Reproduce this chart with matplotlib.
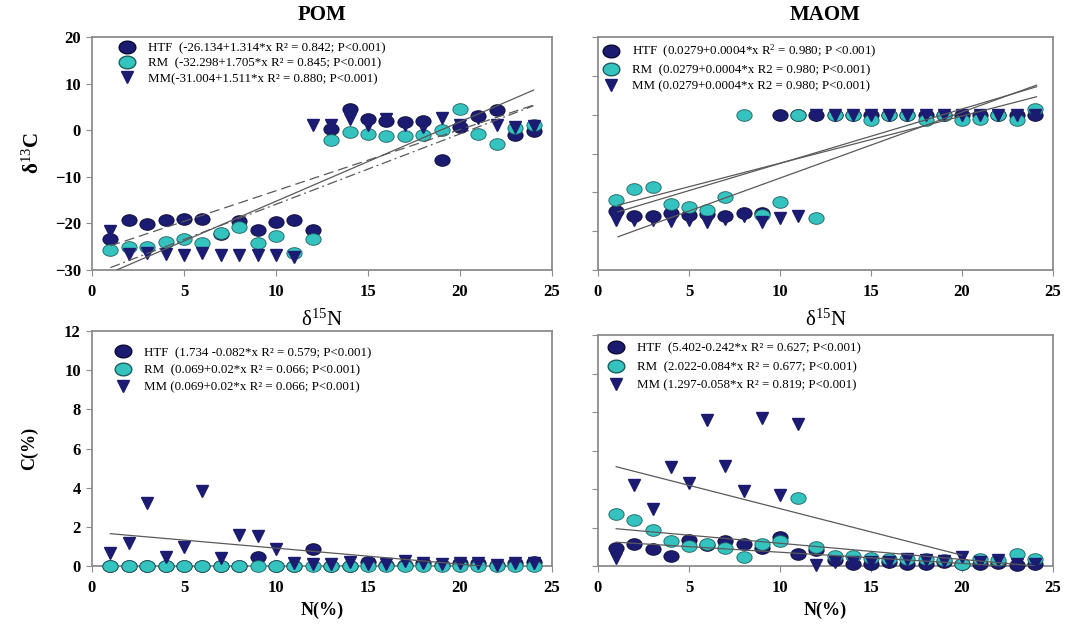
import matplotlib
matplotlib.use("Agg")
import matplotlib.pyplot as plt
import numpy as np
from matplotlib.lines import Line2D
from matplotlib.path import Path

plt.rcParams['font.family'] = ['Liberation Serif', 'DejaVu Serif']
plt.rcParams['mathtext.fontset'] = 'custom'
plt.rcParams['mathtext.rm'] = 'Liberation Serif'
plt.rcParams['mathtext.it'] = 'Liberation Serif:italic'
plt.rcParams['mathtext.bf'] = 'Liberation Serif:bold'

NAVY = '#1b1b72'
CYAN = '#35c3c0'
LINE = '#5a5a5a'
FRAME = '#8c8c8c'

# slightly flattened circle, the way the symbols come out in the figure
_t = np.linspace(0, 2 * np.pi, 60)
OVAL = Path(np.column_stack([0.5 * np.cos(_t), 0.38 * np.sin(_t)]))

x = [1, 2, 3, 4, 5, 6, 7, 8, 9, 10, 11, 12, 13, 14, 15, 16, 17, 18, 19, 20, 21, 22, 23, 24]

# POM: delta13C
pom_iso_htf = [-23.4, -19.3, -20.2, -19.3, -19.0, -19.0, -22.3, -19.5, -21.5, -19.6, -19.3, -21.5,
               0.2, 4.5, 2.5, 2.0, 1.8, 2.0, -6.3, 0.7, 3.0, 4.3, -1.1, -0.2]
pom_iso_rm = [-25.8, -25.0, -25.0, -24.0, -23.3, -24.1, -22.0, -20.7, -24.3, -22.7, -26.3, -23.4,
              -2.1, -0.4, -0.9, -1.3, -1.3, -1.1, 0.0, 4.6, -0.9, -2.9, 0.4, 1.2]
pom_iso_mm = [-21.7, -26.5, -26.3, -26.5, -26.8, -26.3, -26.8, -26.8, -26.8, -26.8, -27.2, 1.2,
              1.2, 2.5, 1.2, 2.5, 1.2, 0.7, 2.7, 1.1, 2.7, 1.1, 0.7, 0.9]
pom_iso_fit_htf = (-26.134, 1.314)
pom_iso_fit_rm = (-32.298, 1.705)
pom_iso_fit_mm = (-31.004, 1.511)

# MAOM: delta13C
maom_iso_htf = [-14.7, -16.1, -16.1, -15.4, -15.8, -15.6, -16.1, -15.4, -15.4, 10.0, 10.0, 10.0,
                10.0, 10.0, 10.0, 10.0, 10.0, 10.0, 10.0, 10.0, 10.0, 10.0, 10.0, 10.0]
maom_iso_rm = [-12.0, -9.2, -8.5, -13.0, -13.7, -14.5, -11.3, 9.9, -15.8, -12.6, 10.0, -16.5,
               10.0, 10.0, 8.6, 10.0, 10.0, 8.6, 10.0, 8.7, 8.9, 10.0, 8.6, 11.4]
maom_iso_mm = [-17.0, -17.0, -17.0, -17.3, -17.0, -17.6, -16.8, -16.1, -17.6, -16.6, -16.1, 10.0,
               10.0, 10.0, 10.0, 10.0, 10.0, 10.0, 10.0, 10.0, 10.0, 10.0, 10.0, 10.0]
maom_iso_fit_htf = (-16.55, 1.401)
maom_iso_fit_rm = (-14.62, 1.214)
maom_iso_fit_mm = (-23.31, 1.699)

# POM: C (%)
pom_c_htf = [0.0, 0.0, 0.0, 0.0, 0.0, 0.0, 0.0, 0.0, 0.44, 0.0, 0.0, 0.87,
             0.0, 0.0, 0.2, 0.05, 0.05, 0.15, 0.05, 0.15, 0.15, 0.05, 0.15, 0.2]
pom_c_rm = [0.0, 0.0, 0.0, 0.0, 0.0, 0.0, 0.0, 0.0, 0.0, 0.0, 0.0, 0.0,
            0.0, 0.0, 0.0, 0.0, 0.0, 0.0, 0.0, 0.0, 0.0, 0.0, 0.0, 0.0]
pom_c_mm = [0.65, 1.16, 3.23, 0.48, 0.99, 3.85, 0.39, 1.58, 1.53, 0.85, 0.17, 0.1,
            0.1, 0.2, 0.1, 0.1, 0.25, 0.15, 0.1, 0.15, 0.15, 0.05, 0.13, 0.15]
pom_c_fit_htf = (1.734, -0.082)

# MAOM: C (%)
maom_c_htf = [0.95, 1.14, 0.87, 0.54, 1.35, 1.09, 1.31, 1.14, 0.95, 1.49, 0.61, 0.83,
              0.31, 0.09, 0.09, 0.22, 0.13, 0.13, 0.22, 0.13, 0.09, 0.17, 0.05, 0.09]
maom_c_rm = [2.7, 2.39, 1.87, 1.3, 1.06, 1.14, 0.95, 0.48, 1.14, 1.3, 3.55, 1.0,
             0.52, 0.52, 0.43, 0.35, 0.35, 0.35, 0.31, 0.1, 0.35, 0.29, 0.61, 0.35]
maom_c_mm = [0.4, 4.2, 2.96, 5.16, 4.3, 7.6, 5.2, 3.9, 7.7, 3.7, 7.38, 0.05,
             0.22, 0.2, 0.22, 0.22, 0.35, 0.3, 0.25, 0.48, 0.22, 0.3, 0.1, 0.1]
maom_c_fit_htf = (5.402, -0.242)
maom_c_fit_rm = (2.022, -0.084)
maom_c_fit_mm = (1.297, -0.058)

pom_iso_labels = ['HTF  (-26.134+1.314*x R\u00b2 = 0.842; P<0.001)',
                  'RM  (-32.298+1.705*x R\u00b2 = 0.845; P<0.001)',
                  'MM(-31.004+1.511*x R\u00b2 = 0.880; P<0.001)']
maom_iso_labels = ['HTF  (0.0279+0.0004*x R$^2$ = 0.980; P <0.001)',
                   'RM  (0.0279+0.0004*x R2 = 0.980; P<0.001)',
                   'MM (0.0279+0.0004*x R2 = 0.980; P<0.001)']
pom_c_labels = ['HTF  (1.734 -0.082*x R\u00b2 = 0.579; P<0.001)',
                'RM  (0.069+0.02*x R\u00b2 = 0.066; P<0.001)',
                'MM (0.069+0.02*x R\u00b2 = 0.066; P<0.001)']
maom_c_labels = ['HTF  (5.402-0.242*x R\u00b2 = 0.627; P<0.001)',
                 'RM  (2.022-0.084*x R\u00b2 = 0.677; P<0.001)',
                 'MM (1.297-0.058*x R\u00b2 = 0.819; P<0.001)']

fig = plt.figure(figsize=(10.73, 6.26), dpi=100)
ax_pi = fig.add_axes([0.0857, 0.5687, 0.4287, 0.372])
ax_mi = fig.add_axes([0.5573, 0.5687, 0.4240, 0.372])
ax_pc = fig.add_axes([0.0857, 0.0958, 0.4287, 0.3754])
ax_mc = fig.add_axes([0.5573, 0.0958, 0.4240, 0.3690])


def scatter3(ax, htf, rm, mm):
    ax.plot(x, htf, ls='none', marker=OVAL, color=NAVY, mec='#0a0a30', mew=0.6, ms=11,
            clip_on=False, zorder=3)
    ax.plot(x, rm, ls='none', marker=OVAL, color=CYAN, mec='#1d5f5f', mew=0.6, ms=11,
            clip_on=False, zorder=4)
    ax.plot(x, mm, 'v', color=NAVY, mec=NAVY, ms=9, clip_on=False, zorder=5)


def fit_line(ax, fit, x0, x1, ls='-'):
    xx = np.array([x0, x1])
    ax.plot(xx, fit[0] + fit[1] * xx, ls=ls, color=LINE, lw=0.9, zorder=6)


def style(ax, ylim, yticks, ylabels=True):
    ax.set_xlim(0, 25)
    ax.set_ylim(*ylim)
    ax.set_xticks([0, 5, 10, 15, 20, 25])
    ax.set_yticks(yticks)
    for s in ax.spines.values():
        s.set_color(FRAME)
        s.set_linewidth(1.3)
    ax.tick_params(direction='out', length=4, color=FRAME, labelsize=12, pad=4)
    ax.tick_params(axis='x', pad=6)
    for t in ax.get_xticklabels() + ax.get_yticklabels():
        t.set_fontweight('bold')
    if not ylabels:
        ax.set_yticklabels([])


def legend3(ax, labels, anchor, spacing):
    handles = [Line2D([], [], marker=OVAL, ls='none', color=NAVY, mec='#0a0a30', ms=12),
               Line2D([], [], marker=OVAL, ls='none', color=CYAN, mec='#1d5f5f', ms=12),
               Line2D([], [], marker='v', ls='none', color=NAVY, ms=9)]
    ax.legend(handles, labels, loc='upper left', bbox_to_anchor=anchor, frameon=False,
              fontsize=9.3, handlelength=1.2, handletextpad=1.0, labelspacing=spacing,
              borderaxespad=0)


# POM delta13C
scatter3(ax_pi, pom_iso_htf, pom_iso_rm, pom_iso_mm)
fit_line(ax_pi, pom_iso_fit_htf, 1, 24, ls=(0, (8, 4)))
fit_line(ax_pi, pom_iso_fit_rm, 1, 24)
fit_line(ax_pi, pom_iso_fit_mm, 1, 24, ls=(0, (8, 3, 1.5, 3)))
style(ax_pi, (-30, 20), [-30, -20, -10, 0, 10, 20])
legend3(ax_pi, pom_iso_labels, (0.048, 1.0), 0.25)
ax_pi.set_title('POM', fontsize=15, fontweight='bold', pad=12)
ax_pi.set_ylabel('\u03b4$^{13}$C', fontsize=15, fontweight='bold', labelpad=8)
ax_pi.set_xlabel('\u03b4$^{15}$N', fontsize=15, labelpad=7)

# MAOM delta13C
scatter3(ax_mi, maom_iso_htf, maom_iso_rm, maom_iso_mm)
fit_line(ax_mi, maom_iso_fit_htf, 1.1, 24.1)
fit_line(ax_mi, maom_iso_fit_rm, 1.1, 24.1)
fit_line(ax_mi, maom_iso_fit_mm, 1.1, 24.1)
style(ax_mi, (-30, 30), [-30, -20, -10, 0, 10, 20, 30], ylabels=False)
legend3(ax_mi, maom_iso_labels, (0.0, 0.995), 0.3)
ax_mi.set_title('MAOM', fontsize=15, fontweight='bold', pad=12)
ax_mi.set_xlabel('\u03b4$^{15}$N', fontsize=15, labelpad=7)

# POM C
scatter3(ax_pc, pom_c_htf, pom_c_rm, pom_c_mm)
fit_line(ax_pc, pom_c_fit_htf, 1, 24)
style(ax_pc, (0, 12), [0, 2, 4, 6, 8, 10, 12])
legend3(ax_pc, pom_c_labels, (0.04, 0.955), 0.42)
ax_pc.set_ylabel('C(%)', fontsize=13, fontweight='bold', labelpad=19)
ax_pc.set_xlabel('N(%)', fontsize=13, fontweight='bold', labelpad=4)

# MAOM C
scatter3(ax_mc, maom_c_htf, maom_c_rm, maom_c_mm)
fit_line(ax_mc, maom_c_fit_htf, 1, 20)
fit_line(ax_mc, maom_c_fit_rm, 1, 24)
fit_line(ax_mc, maom_c_fit_mm, 1, 24)
style(ax_mc, (0, 12), [0, 2, 4, 6, 8, 10, 12], ylabels=False)
legend3(ax_mc, maom_c_labels, (0.012, 0.99), 0.5)
ax_mc.set_xlabel('N(%)', fontsize=13, fontweight='bold', labelpad=4)

fig.savefig('out.png', dpi=100)
